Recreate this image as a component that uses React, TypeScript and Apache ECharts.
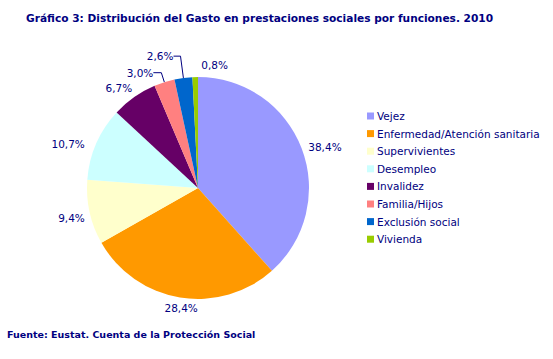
import React, { useEffect, useRef } from "react";
import * as echarts from "echarts";

const chartTitle = "Gráfico 3: Distribución del Gasto en prestaciones sociales por funciones. 2010";
const sourceText = "Fuente: Eustat. Cuenta de la Protección Social";

const categories = [
  "Vejez",
  "Enfermedad/Atención sanitaria",
  "Supervivientes",
  "Desempleo",
  "Invalidez",
  "Familia/Hijos",
  "Exclusión social",
  "Vivienda",
];
const values = [38.4, 28.4, 9.4, 10.7, 6.7, 3.0, 2.6, 0.8];

const colors = ["#9999FF", "#FF9900", "#FFFFCC", "#CCFFFF", "#660066", "#FF8080", "#0066CC", "#99CC00"];
// label fine tuning (styles only)
const lineShow = [false, false, false, false, false, true, true, false];
const lineLen = [7, 7, 7, 7, 7, 10, 22, 7];
const lineLen2 = [0, 0, 0, 0, 0, 8, 7, 0];
const shiftX = [0, 19, 2, -5, 2, 0, 0, 33];
const shiftY = [1, 4, 4, 3, -3, 0, 0, -5];

const NAVY = "#000080";
const FONT = "Verdana, 'DejaVu Sans', sans-serif";

export default function App() {
  const ref = useRef<HTMLDivElement>(null);
  useEffect(() => {
    if (!ref.current) return;
    const chart = echarts.init(ref.current, undefined, { renderer: "svg" });
    const data = categories.map((name, i) => ({
      name,
      value: values[i],
      itemStyle: { color: colors[i] },
      labelLine: { show: lineShow[i], length: lineLen[i], length2: lineLen2[i] },
    }));
    chart.setOption({
      animation: false,
      backgroundColor: "#ffffff",
      title: [
        {
          text: chartTitle,
          left: 26,
          top: 12,
          padding: 0,
          textStyle: { color: NAVY, fontFamily: FONT, fontSize: 10.6, fontWeight: "bold" },
        },
        {
          text: sourceText,
          left: 7,
          top: 329,
          padding: 0,
          textStyle: { color: NAVY, fontFamily: FONT, fontSize: 9.5, fontWeight: "bold" },
        },
      ],
      legend: {
        orient: "vertical",
        left: 367,
        top: 110,
        padding: 0,
        itemWidth: 7,
        itemHeight: 7,
        itemGap: 5.6,
        icon: "rect",
        data: categories,
        textStyle: {
          color: NAVY,
          fontFamily: FONT,
          fontSize: 10.5,
          lineHeight: 12,
          padding: [0, 0, 0, -2],
        },
      },
      series: [
        {
          type: "pie",
          center: [198, 188],
          radius: 111,
          startAngle: 90,
          clockwise: true,
          avoidLabelOverlap: false,
          data,
          label: {
            show: true,
            position: "outside",
            distanceToLabelLine: 0,
            color: NAVY,
            fontFamily: FONT,
            fontSize: 10.5,
            formatter: (p: any) => p.value.toFixed(1).replace(".", ",") + "%",
          },
          labelLine: { lineStyle: { color: NAVY, width: 1 } },
          labelLayout: (p: any) => ({ dx: shiftX[p.dataIndex], dy: shiftY[p.dataIndex] }),
          emphasis: { disabled: true },
        },
      ],
    });
    return () => chart.dispose();
  }, []);
  return (
    <div
      ref={ref}
      style={{ position: "absolute", left: 0, top: 0, width: 553, height: 359 }}
    />
  );
}
